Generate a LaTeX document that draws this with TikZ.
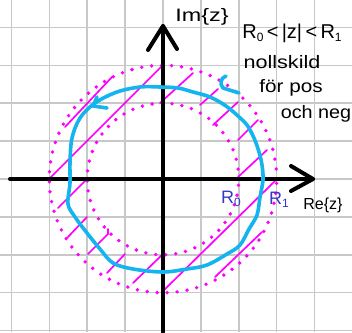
\documentclass[tikz,border=0pt]{standalone}
\usepackage{fontspec}
\setmainfont{Liberation Sans}
\definecolor{gridgray}{RGB}{200,200,200}
\definecolor{mag}{RGB}{255,0,255}
\definecolor{cyanline}{RGB}{20,180,238}
\definecolor{labblue}{RGB}{55,55,200}
\newcommand{\subtxt}[1]{\raisebox{-0.3ex}{\fontsize{12}{12}\selectfont #1}}
\begin{document}
\begin{tikzpicture}[x=1pt,y=-1pt,
  gridline/.style={draw=gridgray,line width=1.5pt},
  axisline/.style={draw=black,line width=4pt,line cap=round,line join=round},
  dotcircle/.style={draw=mag,line width=3.8pt,line cap=round,dash pattern=on 0pt off 10pt},
  hatchline/.style={draw=mag,line width=1.7pt,line cap=round},
  contour/.style={draw=cyanline,line width=3.6pt,line cap=round,line join=round},
  handtext/.style={inner sep=0pt,text=black}]
\fill[white] (0,0) rectangle (352,332);
\useasboundingbox (0,0) rectangle (352,332);
\begin{scope}
  \clip (0,0) rectangle (352,332);
  \foreach \i in {-4,...,5} \draw[gridline] ({163+37.9*\i},0) -- ++(0,332);
  \foreach \j in {-4,...,4} \draw[gridline] (0,{179+37.9*\j}) -- ++(352,0);
\end{scope}
\coordinate (O) at (163,179);
% dotted circles
\draw[dotcircle] (O) circle[radius=75.8pt];
\draw[dotcircle] (O) circle[radius=113.7pt];
% hatching
\draw[hatchline] (50,178) -- (163,65);
\draw[hatchline] (65,127) -- (112,77);
\draw[hatchline] (160,103) -- (193,73);
\draw[hatchline] (200,105) -- (218,89);
\draw[hatchline] (213,125) -- (238,102);
\draw[hatchline] (238,140) -- (258,120);
\draw[hatchline] (238,177) -- (267,150);
\draw[hatchline] (162,292) -- (276,180);
\draw[hatchline] (215,277) -- (262,232);
\draw[hatchline] (58,208) -- (87,179);
\draw[hatchline] (67,238) -- (87,217);
\draw[hatchline] (88,254) -- (108,234) -- (108,229);
\draw[hatchline] (107,273) -- (125,254);
\draw[hatchline] (133,283) -- (163,254);
% axes
\draw[axisline] (163,332) -- (163,26);
\draw[axisline] (148,50) -- (163,26) -- (177,49);
\draw[axisline] (10,179) -- (313,179);
\draw[axisline] (291,166) -- (313,179) -- (291,191);
% contour
\draw[contour] plot[smooth cycle,tension=0.55] coordinates {
 (210,97) (193,92) (178,88) (160,87) (140,87) (117,92) (95,103) (80,118)
 (72,138) (70,162) (70,183) (68,204) (75,217) (87,233) (100,249) (113,263)
 (133,269) (163,272) (187,269) (207,265) (227,254) (240,245) (249,229)
 (257,215) (260,197) (263,180) (262,165) (259,152) (254,138) (247,125)
 (238,116) (226,106)};
\draw[contour] (239,93) -- (223,88) .. controls (219,83) and (221,78) .. (226,76);
\draw[contour] (97,97) -- (93,106) -- (107,108);
% labels
\node[handtext] (im) at (202,17) {\fontsize{18}{18}\selectfont\scalebox{1.3}[1]{Im\{z\}}};
\node[handtext] (cond) at (292,33) {\fontsize{20}{20}\selectfont R\subtxt{0}\,<\,|z|\,<\,R\subtxt{1}};
\node[handtext] (l1) at (282,62) {\fontsize{18}{18}\selectfont\scalebox{1.2}[1]{nollskild}};
\node[handtext] (l2) at (291,88) {\fontsize{18}{18}\selectfont\scalebox{1.15}[1]{för pos}};
\node[handtext] (l3) at (316,114) {\fontsize{18}{18}\selectfont\scalebox{1.1}[1]{och neg}};
\node[handtext] (re) at (323,205) {\fontsize{16}{16}\selectfont Re\{z\}};
\node[handtext,text=labblue] (r0) at (231,199) {\fontsize{18}{18}\selectfont R\subtxt{0}};
\node[handtext,text=labblue] (r1) at (279,200) {\fontsize{18}{18}\selectfont R\subtxt{1}};
\end{tikzpicture}
\end{document}
